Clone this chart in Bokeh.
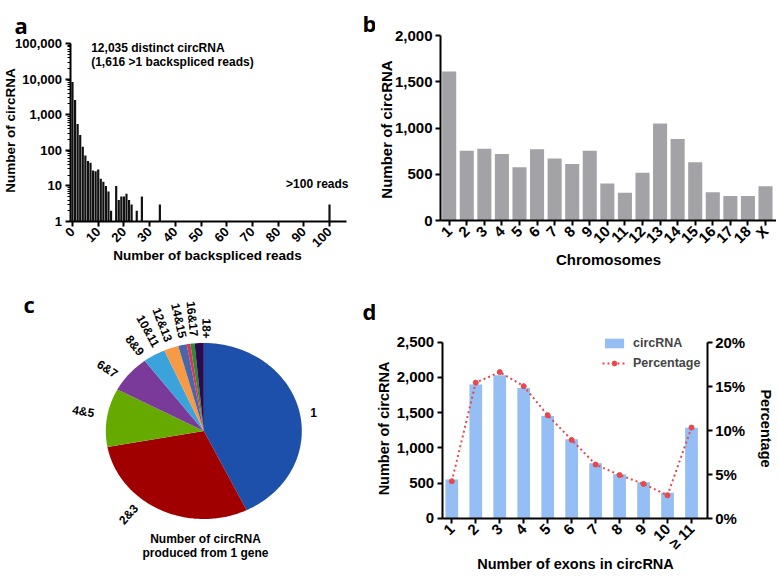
import numpy as np
from math import pi
from bokeh.plotting import figure
from bokeh.layouts import column, row
from bokeh.models import (Range1d, LinearAxis, LogAxis, NumeralTickFormatter,
                          PrintfTickFormatter, FixedTicker, LogTicker,
                          Label, Legend, LegendItem)
from bokeh.embed import file_html
from bokeh.resources import INLINE

FONT = "Liberation Sans"
LETTER_FONT = "Open Sans"

# ---------------- data ----------------
# panel a: number of circRNA per number of backspliced reads (log scale)
a_reads = [0, 1, 2, 3, 4, 5, 6, 7, 8, 9, 10, 11, 12, 13, 14, 15, 17, 18, 19, 20,
           21, 22, 23, 25, 27, 34, 100]
a_counts = [8300, 2600, 545, 270, 125, 72, 50, 45, 27, 26, 29, 16, 13, 10, 7, 2,
            10, 4, 5, 5, 6, 4, 3, 2, 5, 3, 3]
a_ticks = [0, 10, 20, 30, 40, 50, 60, 70, 80, 90, 100]

# panel b: circRNA per chromosome
b_chrom = ["1", "2", "3", "4", "5", "6", "7", "8", "9", "10", "11", "12", "13",
           "14", "15", "16", "17", "18", "X"]
b_counts = [1610, 755, 775, 720, 575, 770, 670, 610, 755, 400, 300, 515, 1050,
            880, 630, 305, 265, 265, 370]
b_yticks = [0, 500, 1000, 1500, 2000]

# panel c: number of circRNA produced from 1 gene (share, %)
c_groups = ["1", "2&3", "4&5", "6&7", "8&9", "10&11", "12&13", "14&15", "16&17", "18+"]
c_share = [42.8, 29.3, 10.7, 6.9, 3.7, 2.4, 1.4, 0.6, 0.7, 1.5]
c_colors = ["#1c50ab", "#a00000", "#66aa00", "#7a3a99", "#3ba3dc", "#f79a45",
            "#4a66a6", "#d9345e", "#2e8b2e", "#2a0a50"]

# panel d: number of exons in circRNA
d_exons = ["1", "2", "3", "4", "5", "6", "7", "8", "9", "10", "\u2265 11"]
d_circ = [550, 1900, 2030, 1850, 1450, 1120, 780, 625, 510, 360, 1285]
d_pct = [4.2, 15.4, 16.6, 15.0, 11.7, 8.9, 6.1, 4.9, 3.9, 2.6, 10.3]
d_yticks = [0, 500, 1000, 1500, 2000, 2500]
d_pticks = [0, 5, 10, 15, 20]


# ---------------- layout helpers ----------------
def span(o, length, p1, v1, p2, v2, axis="x", log=False):
    """Range of a figure whose canvas covers page pixels [o, o+length],
    so that value v1 sits at page pixel p1 and v2 at p2."""
    if log:
        v1, v2 = np.log10(v1), np.log10(v2)
    f = lambda p: v1 + (p - p1) * (v2 - v1) / (p2 - p1)
    a, b = (f(o), f(o + length)) if axis == "x" else (f(o + length), f(o))
    if log:
        a, b = 10 ** a, 10 ** b
    return float(a), float(b)


def inv(p1, v1, p2, v2, page):
    return float(v1 + (page - p1) * (v2 - v1) / (p2 - p1))


def make_fig(w, h, xr, yr, **kw):
    p = figure(width=w, height=h, x_range=Range1d(*xr), y_range=Range1d(*yr),
               output_backend="svg", toolbar_location=None,
               x_axis_location=None, y_axis_location=None, min_border=0, **kw)
    p.xgrid.visible = False
    p.ygrid.visible = False
    p.outline_line_color = None
    p.background_fill_color = "white"
    p.border_fill_color = "white"
    return p


def style_axis(ax, size):
    ax.axis_line_width = 2
    ax.axis_line_color = "black"
    ax.major_tick_line_width = 2
    ax.major_tick_line_color = "black"
    ax.major_tick_out = 5
    ax.major_tick_in = 0
    ax.minor_tick_line_color = None
    ax.major_label_text_font = FONT
    ax.major_label_text_font_style = "bold"
    ax.major_label_text_font_size = size
    ax.major_label_text_color = "black"
    ax.major_label_standoff = 3


def lab(p, org, px, py, text, size, angle=0.0, align="center", baseline="middle",
        bold=True, font=FONT):
    ox, oy, w, h = org
    p.add_layout(Label(x=px - ox, y=(oy + h) - py, x_units="screen", y_units="screen",
                       text=text, angle=angle, text_align=align,
                       text_baseline=baseline, text_font=font, text_font_size=size,
                       text_font_style="bold" if bold else "normal",
                       text_color="black"))


# canvas split (page pixels): columns at 0 | 375 | 776, rows at 0 | 288 | 575
# ---------------- panel a ----------------
OA = (0, 0, 375, 288)
ax_x = (72, 0, 329, 100)      # page px of value 0 and 100
ax_y = (221, 1, 43, 100000)   # page px of 1 and 100000
pa = make_fig(OA[2], OA[3],
              span(OA[0], OA[2], *ax_x, axis="x"),
              span(OA[1], OA[3], *ax_y, axis="y", log=True),
              y_axis_type="log")
xa0 = inv(*ax_x, 69.5)
xa1 = inv(*ax_x, 346)
pa.vbar(x=a_reads, top=a_counts, bottom=1, width=0.85, fill_color="#111111",
        line_color=None)
xa = LinearAxis(fixed_location=1, bounds=(xa0, xa1), ticker=FixedTicker(ticks=a_ticks))
style_axis(xa, "13px")
xa.major_label_orientation = pi / 4
pa.add_layout(xa, "below")
ya = LogAxis(fixed_location=xa0, bounds=(1, 100000),
             ticker=LogTicker(desired_num_ticks=6, num_minor_ticks=10),
             formatter=NumeralTickFormatter(format="0,0"))
style_axis(ya, "13px")
ya.minor_tick_line_color = "black"
ya.minor_tick_line_width = 1
ya.minor_tick_out = 3
ya.minor_tick_in = 0
pa.add_layout(ya, "left")

lab(pa, OA, 10, 130, "Number of circRNA", "13.5px", angle=pi / 2)
lab(pa, OA, 207, 255, "Number of backspliced reads", "13.5px")
lab(pa, OA, 90.7, 47, "12,035 distinct circRNA", "12px", align="left")
lab(pa, OA, 90.7, 61.5, "(1,616 >1 backspliced reads)", "12px", align="left")
lab(pa, OA, 348, 183, ">100 reads", "12px", align="right")
lab(pa, OA, 14, 24, "a", "22px", align="left", baseline="alphabetic", font=LETTER_FONT)
lab(pa, OA, 362, 22, "b", "22px", align="left", baseline="alphabetic", font=LETTER_FONT)

# ---------------- panel b ----------------
OB = (375, 0, 401, 288)
b_x = list(range(1, len(b_chrom) + 1))
bx = (448.7, 1, 765, len(b_chrom))
by = (220, 0, 35, 2000)
pb = make_fig(OB[2], OB[3], span(OB[0], OB[2], *bx, axis="x"),
              span(OB[1], OB[3], *by, axis="y"))
bx0 = inv(*bx, 440)
bx1 = inv(*bx, 776)
pb.vbar(x=b_x, top=b_counts, width=0.8, fill_color="#a3a3a7", line_color=None)
xb = LinearAxis(fixed_location=0, bounds=(bx0, bx1), ticker=FixedTicker(ticks=b_x))
xb.major_label_overrides = {i: s for i, s in zip(b_x, b_chrom)}
style_axis(xb, "15px")
xb.major_label_orientation = pi / 4
pb.add_layout(xb, "below")
yb = LinearAxis(fixed_location=bx0, bounds=(0, 2000), ticker=FixedTicker(ticks=b_yticks),
                formatter=NumeralTickFormatter(format="0,0"))
style_axis(yb, "15px")
pb.add_layout(yb, "left")
lab(pb, OB, 386, 129, "Number of circRNA", "15px", angle=pi / 2)
lab(pb, OB, 608, 259, "Chromosomes", "15px")

# ---------------- panel c ----------------
OC = (0, 288, 375, 287)
CX, CY, RX, RY = 203.3, 430.5, 98.0, 88.0
pc = make_fig(OC[2], OC[3], span(OC[0], OC[2], CX, 0, CX + RX, 1, axis="x"),
              span(OC[1], OC[3], CY, 0, CY - RY, 1, axis="y"))
shares = np.array(c_share, dtype=float)
edges = np.concatenate([[0.0], np.cumsum(shares)]) / shares.sum() * 2 * pi
xs, ys = [], []
for s, e in zip(edges[:-1], edges[1:]):
    t = np.linspace(s, e, max(3, int((e - s) * 60)))
    xs.append([0.0] + list(np.sin(t)))
    ys.append([0.0] + list(np.cos(t)))
pc.patches(xs=xs, ys=ys, fill_color=c_colors, line_color=None)

# label layout (angle clockwise from 12 o'clock, radius factor)
lbl_theta = [79.4, 219, 280.2, 305.6, 324, 333.3, 340.7, 348.5, 354.7, 1.5]
lbl_r = [1.14, 1.22, 1.25, 1.21, 1.20, 1.27, 1.28, 1.28, 1.28, 1.165]
for name, th, r in zip(c_groups, lbl_theta, lbl_r):
    tr = np.radians(th)
    lx, ly = r * np.sin(tr), r * np.cos(tr)
    ang = 0.0 if 45 < th < 135 else float(np.arctan2(-ly * RY, -lx * RX))
    pc.add_layout(Label(x=float(lx), y=float(ly), text=name, angle=ang,
                        text_align="center", text_baseline="middle",
                        text_font=FONT, text_font_size="12px",
                        text_font_style="bold", text_color="black"))
lab(pc, OC, 205, 538, "Number of circRNA", "12px")
lab(pc, OC, 205, 552, "produced from 1 gene", "12px")
lab(pc, OC, 23, 303, "c", "22px", align="left", baseline="alphabetic", font=LETTER_FONT)
lab(pc, OC, 362, 310, "d", "22px", align="left", baseline="alphabetic", font=LETTER_FONT)

# ---------------- panel d ----------------
OD = (375, 288, 401, 287)
d_x = list(range(1, len(d_exons) + 1))
dx = (451.3, 1, 691, len(d_exons))
dy = (517.7, 0, 341.7, 2500)
dp = (517.7, 0, 341.7, 20)
pd_ = make_fig(OD[2], OD[3], span(OD[0], OD[2], *dx, axis="x"),
               span(OD[1], OD[3], *dy, axis="y"))
pd_.extra_y_ranges = {"pct": Range1d(*span(OD[1], OD[3], *dp, axis="y"))}
dx0 = inv(*dx, 441.7)
dx1 = inv(*dx, 706.7)
bars = pd_.vbar(x=d_x, top=d_circ, width=0.53, fill_color="#94bef4", line_color=None)
ln = pd_.line(x=d_x, y=d_pct, y_range_name="pct", line_color="#e8474b",
              line_width=2, line_dash="2 3")
pts = pd_.scatter(x=d_x, y=d_pct, y_range_name="pct", size=5,
                  fill_color="#e8474b", line_color="#e8474b")
xd = LinearAxis(fixed_location=0, bounds=(dx0, dx1), ticker=FixedTicker(ticks=d_x))
xd.major_label_overrides = {i: s for i, s in zip(d_x, d_exons)}
style_axis(xd, "15px")
xd.major_label_orientation = pi / 4
pd_.add_layout(xd, "below")
yd = LinearAxis(fixed_location=dx0, bounds=(0, 2500), ticker=FixedTicker(ticks=d_yticks),
                formatter=NumeralTickFormatter(format="0,0"))
style_axis(yd, "15px")
pd_.add_layout(yd, "left")
rd = LinearAxis(y_range_name="pct", fixed_location=dx1, bounds=(0, 20),
                ticker=FixedTicker(ticks=d_pticks),
                formatter=PrintfTickFormatter(format="%d%%"))
style_axis(rd, "15px")
pd_.add_layout(rd, "right")

leg = Legend(items=[LegendItem(label="circRNA", renderers=[bars]),
                    LegendItem(label="Percentage", renderers=[ln, pts])],
             location=(602 - OD[0], (OD[1] + OD[3]) - 369.5),
             glyph_width=24, glyph_height=12, spacing=6,
             padding=0, margin=0, label_standoff=7, border_line_color=None,
             background_fill_alpha=0, label_text_font=FONT,
             label_text_font_style="bold", label_text_font_size="12.5px")
pd_.add_layout(leg)

lab(pd_, OD, 383.5, 428, "Number of circRNA", "14.5px", angle=pi / 2)
lab(pd_, OD, 765, 428, "Percentage", "14.5px", angle=-pi / 2)
lab(pd_, OD, 575, 563, "Number of exons in circRNA", "14.5px")

layout = column(row(pa, pb, spacing=0), row(pc, pd_, spacing=0), spacing=0)
open("out.html", "w").write(file_html(layout, INLINE))
